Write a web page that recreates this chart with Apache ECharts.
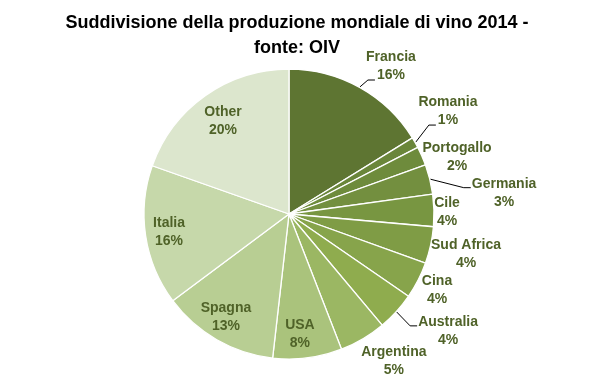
<!DOCTYPE html>
<html>
<head>
<meta charset="utf-8">
<script src="https://cdn.jsdelivr.net/npm/echarts@6/dist/echarts.min.js"></script>
<style>html,body{margin:0;padding:0;background:#fff;}#c{width:594px;height:387px;}</style>
</head>
<body>
<div id="c"></div>
<script>
// ---- data ----
const categories = ['Francia','Romania','Portogallo','Germania','Cile','Sud Africa','Cina','Australia','Argentina','USA','Spagna','Italia','Other'];
const shares = [16.2, 1.2, 2.1, 3.3, 3.6, 4.1, 4.1, 4.3, 5.2, 7.7, 13.0, 15.6, 19.6];
const titleText = 'Suddivisione della produzione mondiale di vino 2014 -\nfonte: OIV';

// ---- style ----
const colors = ['#5E7532','#6A863A','#6E8B3C','#738F3F','#789641','#7F9C45','#87A44B','#8FAC4E','#9BB763','#AAC37C','#B8CE93','#C6D8AA','#DCE6CD'];
const labelDist = [179.7, 189.4, 177.4, 216.1, 158, 181.6, 166.4, 197.4, 180.6, 121, 120.7, 121.3, 114];
const labelShift = [5.4, -3.4, 4.9, 8.2, 0.9, 0.5, 0, -6, -4.9, 2.2, 1.6, 0.1, -0.1];
const leaderTarget = [1, 1, 0, 2, 0, 0, 0, 2, 0, 0, 0, 0, 0]; // 0 none, 1 second line, 2 first line
const CX = 289, CY = 214, R = 145;
const FONT = 'bold 14px "Liberation Sans", Arial, sans-serif';
const LH = 18;

const total = shares.reduce((a, b) => a + b, 0);
const midAngles = [];
let cum = 0;
shares.forEach(v => { midAngles.push((cum + v / 2) / total * 360); cum += v; });

const mctx = document.createElement('canvas').getContext('2d');
mctx.font = FONT;
function tw(t) { return mctx.measureText(t).width; }
function polar(d, deg) { const a = deg * Math.PI / 180; return [CX + d * Math.sin(a), CY - d * Math.cos(a)]; }
function pct(i) { return Math.round(shares[i] / total * 100) + '%'; }

const data = categories.map((name, i) => ({
  name: name,
  value: shares[i],
  itemStyle: { color: colors[i] },
  labelLine: { show: leaderTarget[i] !== 0 }
}));

const chart = echarts.init(document.getElementById('c'), null, { renderer: 'canvas' });
chart.setOption({
  animation: false,
  backgroundColor: '#ffffff',
  title: {
    text: titleText,
    left: 'center',
    top: 6,
    textStyle: { fontFamily: '"Liberation Sans", Arial, sans-serif', fontSize: 18, fontWeight: 'bold', color: '#000', lineHeight: 25 }
  },
  series: [{
    type: 'pie',
    center: [CX, CY],
    radius: [0, R],
    startAngle: 90,
    clockwise: true,
    avoidLabelOverlap: false,
    data: data,
    itemStyle: { borderColor: '#ffffff', borderWidth: 1.3 },
    label: {
      show: true,
      position: 'outside',
      formatter: p => p.name + '\n' + pct(p.dataIndex),
      fontFamily: '"Liberation Sans", Arial, sans-serif',
      fontSize: 14,
      fontWeight: 'bold',
      color: '#4F6228',
      lineHeight: LH,
      align: 'center'
    },
    labelLine: { lineStyle: { color: '#000', width: 1 }, length: 10, length2: 5 },
    labelLayout: function (params) {
      const i = params.dataIndex;
      const pos = polar(labelDist[i], midAngles[i] + labelShift[i]);
      const out = { x: pos[0], y: pos[1], align: 'center', verticalAlign: 'middle' };
      if (leaderTarget[i]) {
        const p0 = polar(R + 0.5, midAngles[i]);
        let p2;
        if (leaderTarget[i] === 1) {
          p2 = [pos[0] - tw(pct(i)) / 2 - 2, pos[1] + LH / 2 + 5];
        } else {
          p2 = [pos[0] - tw(categories[i]) / 2 - 1, pos[1] - LH / 2 + 4];
        }
        const p1 = [p2[0] - 7, p2[1]];
        out.labelLinePoints = [p0, p1, p2];
      }
      return out;
    }
  }]
});
</script>
</body>
</html>
